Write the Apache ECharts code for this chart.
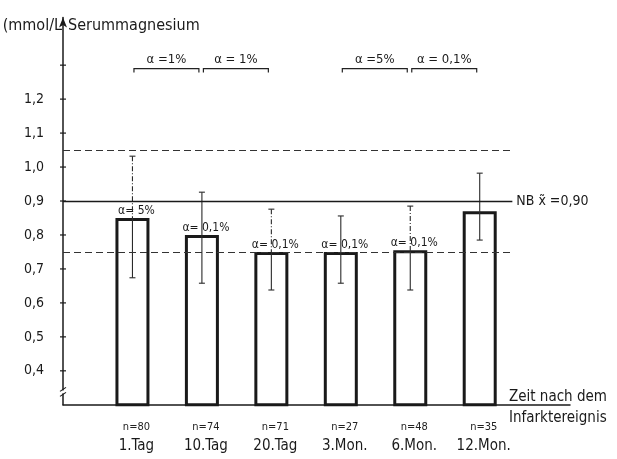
<!DOCTYPE html>
<html>
<head>
<meta charset="utf-8">
<script src="https://cdn.jsdelivr.net/npm/echarts@6/dist/echarts.min.js"></script>
<style>
  html, body { margin: 0; padding: 0; background: #fff; }
  #chart { width: 617px; height: 459px; }
</style>
</head>
<body>
<div id="chart"></div>
<script>
// Serum magnesium after myocardial infarction (mmol/L), mean with ± SD
const periods = ['1.Tag', '10.Tag', '20.Tag', '3.Mon.', '6.Mon.', '12.Mon.'];
const sampleSizes = [80, 74, 71, 27, 48, 35];
const meanValues = [0.85, 0.80, 0.75, 0.75, 0.755, 0.87];
const sdLow = [0.674, 0.658, 0.638, 0.658, 0.638, 0.785];
const sdHigh = [1.032, 0.926, 0.876, 0.856, 0.885, 0.982];
const barSignificance = ['α= 5%', 'α= 0,1%', 'α= 0,1%', 'α= 0,1%', 'α= 0,1%', ''];

// significance between neighbouring periods (1-based period positions)
const pairFrom = [1, 2, 4, 5];
const pairTo = [2, 3, 5, 6];
const pairLabels = ['α =1%', 'α = 1%', 'α =5%', 'α = 0,1%'];
const pairLevel = 1.29;

// normal range (NB)
const normalMean = 0.90;
const normalLower = 0.75;
const normalUpper = 1.05;

const yTickValues = [0.4, 0.5, 0.6, 0.7, 0.8, 0.9, 1.0, 1.1, 1.2, 1.3];
const yTickLabels = ['0,4', '0,5', '0,6', '0,7', '0,8', '0,9', '1,0', '1,1', '1,2', ''];

const FONT = '"DejaVu Sans Condensed", "DejaVu Sans", sans-serif';
const INK = '#1a1a1a';
const refLineEnd = 6.47;      // reference lines stop before the NB label
const dashedUpper = [0, 2, 4]; // SD whiskers drawn dash-dotted above the bar

const chart = echarts.init(document.getElementById('chart'), null, { renderer: 'canvas' });

const option = {
  animation: false,
  backgroundColor: '#fff',
  textStyle: { fontFamily: FONT },
  grid: { left: 63, right: 47, top: 17.6, bottom: 54.2, containLabel: false },
  xAxis: {
    type: 'value',
    min: 0,
    max: 7.3,
    interval: 1,
    splitLine: { show: false },
    axisTick: { show: false },
    axisLine: { show: true, lineStyle: { color: INK, width: 1.5 } },
    axisLabel: {
      show: true,
      margin: 13,
      padding: [0, 0, 0, 8],
      showMinLabel: false,
      showMaxLabel: false,
      formatter: function (v) {
        const r = Math.round(v);
        if (Math.abs(v - r) > 1e-6 || r < 1 || r > periods.length) return '';
        return '{n|n=' + sampleSizes[r - 1] + '}\n{m|' + periods[r - 1] + '}';
      },
      rich: {
        n: { fontFamily: FONT, fontSize: 11, color: '#222', lineHeight: 18, align: 'center' },
        m: { fontFamily: FONT, fontSize: 15, color: INK, lineHeight: 20, align: 'center' }
      }
    }
  },
  yAxis: {
    type: 'value',
    min: 0.3,
    max: 1.44,
    interval: 0.1,
    splitLine: { show: false },
    axisTick: { show: false },
    axisLine: {
      show: true,
      symbol: ['none', 'arrow'],
      symbolSize: [6, 10],
      lineStyle: { color: INK, width: 1.5 }
    },
    axisLabel: {
      margin: 19,
      fontFamily: FONT,
      fontSize: 14,
      color: INK,
      showMaxLabel: false,
      formatter: function (v) {
        for (let i = 0; i < yTickValues.length; i++) {
          if (Math.abs(yTickValues[i] - v) < 1e-6) return yTickLabels[i];
        }
        return '';
      }
    }
  },
  series: [
    {
      type: 'bar',
      barWidth: 34,
      data: meanValues.map((v, i) => [i + 1, v]),
      itemStyle: { color: 'rgba(0,0,0,0)', borderColor: INK, borderWidth: 3 },
      label: {
        show: true,
        position: 'top',
        distance: 1,
        offset: [4, 0],
        fontFamily: FONT,
        fontSize: 12,
        color: INK,
        formatter: p => barSignificance[p.dataIndex]
      },
      markLine: {
        silent: true,
        symbol: 'none',
        label: { show: false },
        data: [
          [
            { coord: [0, normalUpper], lineStyle: { type: [7, 4], width: 1, color: '#333' } },
            { coord: [refLineEnd, normalUpper] }
          ],
          [
            {
              coord: [0, normalMean],
              lineStyle: { type: 'solid', width: 1.4, color: INK },
              label: {
                show: true,
                position: 'end',
                distance: 4,
                fontFamily: FONT,
                fontSize: 14,
                color: INK,
                formatter: () => 'NB x̃ =' + normalMean.toFixed(2).replace('.', ',')
              }
            },
            { coord: [refLineEnd, normalMean] }
          ],
          [
            { coord: [0, normalLower], lineStyle: { type: [7, 4], width: 1, color: '#333' } },
            { coord: [refLineEnd, normalLower] }
          ]
        ]
      },
      z: 2
    },
    {
      // standard deviation whiskers
      type: 'custom',
      data: meanValues.map((v, i) => [i + 1, sdLow[i], sdHigh[i], v]),
      renderItem: function (params, api) {
        const x = api.value(0);
        const lo = api.coord([x, api.value(1)]);
        const hi = api.coord([x, api.value(2)]);
        const top = api.coord([x, api.value(3)]);
        const cap = 3;
        const dashed = dashedUpper.indexOf(params.dataIndex) >= 0;
        const st = { stroke: '#2a2a2a', lineWidth: 1.1 };
        return {
          type: 'group',
          children: [
            { type: 'line', shape: { x1: hi[0] - cap, y1: hi[1], x2: hi[0] + cap, y2: hi[1] }, style: st },
            { type: 'line', shape: { x1: lo[0] - cap, y1: lo[1], x2: lo[0] + cap, y2: lo[1] }, style: st },
            {
              type: 'line',
              shape: { x1: hi[0], y1: hi[1], x2: top[0], y2: top[1] },
              style: Object.assign({}, st, dashed ? { lineDash: [5, 2, 1, 2] } : {})
            },
            { type: 'line', shape: { x1: top[0], y1: top[1], x2: lo[0], y2: lo[1] }, style: st }
          ]
        };
      },
      z: 3
    },
    {
      // significance brackets between periods
      type: 'custom',
      data: pairFrom.map((f, i) => [f, pairTo[i], pairLevel]),
      renderItem: function (params, api) {
        const a = api.coord([api.value(0), api.value(2)]);
        const b = api.coord([api.value(1), api.value(2)]);
        const x1 = a[0] + 1.5, x2 = b[0] - 3, y = a[1];
        return {
          type: 'group',
          children: [
            {
              type: 'polyline',
              shape: { points: [[x1, y + 4], [x1, y], [x2, y], [x2, y + 4]] },
              style: { stroke: '#222', lineWidth: 1.2, fill: null }
            },
            {
              type: 'text',
              style: {
                text: pairLabels[params.dataIndex],
                x: (x1 + x2) / 2,
                y: y - 2,
                align: 'center',
                verticalAlign: 'bottom',
                font: '13px ' + FONT,
                fill: INK
              }
            }
          ]
        };
      },
      z: 3
    },
    {
      // y axis ticks crossing the axis line
      type: 'custom',
      data: yTickValues.map(v => [0, v]),
      renderItem: function (params, api) {
        const p = api.coord([0, api.value(1)]);
        return {
          type: 'line',
          shape: { x1: p[0] - 3, y1: p[1], x2: p[0] + 3, y2: p[1] },
          style: { stroke: INK, lineWidth: 1.2 }
        };
      },
      z: 4
    }
  ],
  graphic: {
    elements: [
      {
        id: 'unit',
        type: 'text',
        style: { text: '(mmol/L', x: 62, y: 26, align: 'right', verticalAlign: 'middle', font: '16px ' + FONT, fill: INK }
      },
      {
        id: 'quantity',
        type: 'text',
        style: { text: 'Serummagnesium', x: 68, y: 26, align: 'left', verticalAlign: 'middle', font: '16px ' + FONT, fill: INK }
      },
      {
        id: 'timeTitle',
        type: 'text',
        style: {
          text: 'Zeit nach dem\nInfarktereignis',
          x: 509, y: 386.5,
          align: 'left', verticalAlign: 'top',
          lineHeight: 21,
          font: '15px ' + FONT, fill: INK
        }
      }
    ]
  }
};

chart.setOption(option);

// axis break mark near the bottom of the value axis
const brk = chart.convertToPixel({ gridIndex: 0 }, [0, 0.338]);
chart.setOption({
  graphic: {
    elements: [
      {
        id: 'breakGap', type: 'rect', z: 10,
        shape: { x: brk[0] - 3, y: brk[1] - 1.5, width: 6, height: 3 },
        style: { fill: '#fff' }
      },
      {
        id: 'breakA', type: 'line', z: 11,
        shape: { x1: brk[0] - 3, y1: brk[1] - 0.5, x2: brk[0] + 3, y2: brk[1] - 4.5 },
        style: { stroke: INK, lineWidth: 1.1 }
      },
      {
        id: 'breakB', type: 'line', z: 11,
        shape: { x1: brk[0] - 3, y1: brk[1] + 4.5, x2: brk[0] + 3, y2: brk[1] + 0.5 },
        style: { stroke: INK, lineWidth: 1.1 }
      }
    ]
  }
});
</script>
</body>
</html>
